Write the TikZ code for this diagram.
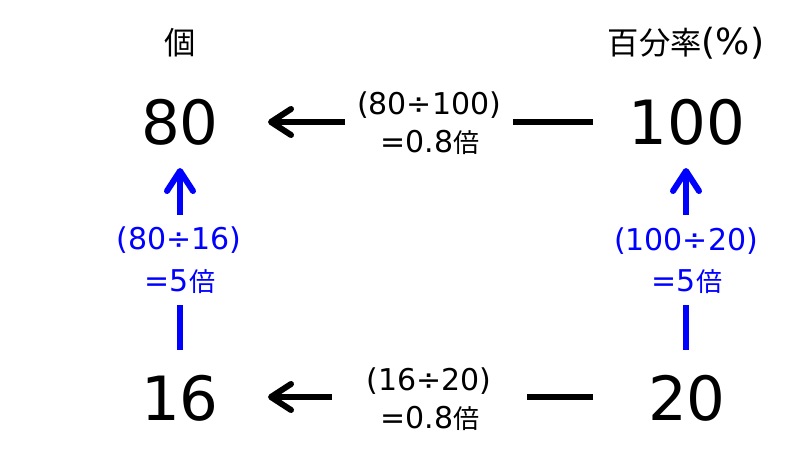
\documentclass[tikz,border=0pt]{standalone}
\usepackage{fontspec}
\setmainfont{DejaVu Sans}
\newfontfamily\cjk{Noto Sans CJK JP}[Scale=0.87]
\usetikzlibrary{arrows.meta}
\definecolor{myblue}{RGB}{0,0,255}
\tikzset{
  num/.style={font=\fontsize{61bp}{70bp}\selectfont, inner sep=0pt, anchor=base},
  head/.style={font=\fontsize{36bp}{40bp}\selectfont, inner sep=0pt, anchor=base},
  lbl/.style={font=\fontsize{30bp}{36bp}\selectfont, inner sep=0pt, anchor=base},
  bluelbl/.style={lbl, text=myblue},
  blkline/.style={line width=6bp, black},
  blkarrow/.style={line width=6bp, black, -{Straight Barb[round, length=20bp, width=26bp]}},
  blueline/.style={line width=6bp, myblue},
  bluearrow/.style={line width=6bp, myblue, -{Straight Barb[round, length=20bp, width=26bp]}},
}
\begin{document}
\begin{tikzpicture}[x=1bp,y=-1bp]
\useasboundingbox[fill=white] (0,0) rectangle (800,450);
% headers
\node[head] (hL) at (180,55) {{\cjk 個}};
\node[head] (hR) at (686,55) {{\cjk 百分率}(\%)};
% numbers
\node[num] (n80) at (180,145) {80};
\node[num] (n100) at (687,145) {100};
\node[num] (n16) at (180,420) {16};
\node[num] (n20) at (687,420) {20};
% top labels
\node[lbl] (t1) at (429,115) {(80÷100)};
\node[lbl] (t2) at (430,153) {=0.8{\cjk 倍}};
% bottom labels
\node[lbl] (b1) at (429,390) {(16÷20)};
\node[lbl] (b2) at (430,428) {=0.8{\cjk 倍}};
% left labels
\node[bluelbl] (l1) at (179,250) {(80÷16)};
\node[bluelbl] (l2) at (180,292) {=5{\cjk 倍}};
% right labels
\node[bluelbl] (r1) at (686,251) {(100÷20)};
\node[bluelbl] (r2) at (687,292) {=5{\cjk 倍}};
% connector coordinates
\coordinate (tA) at (593,122);
\coordinate (tB) at (513,122);
\coordinate (tC) at (345,122);
\coordinate (tD) at (268,122);
\coordinate (bA) at (593,397);
\coordinate (bB) at (527,397);
\coordinate (bC) at (332,397);
\coordinate (bD) at (268,397);
\coordinate (lA) at (180,350);
\coordinate (lB) at (180,305);
\coordinate (lC) at (180,215);
\coordinate (lD) at (180,168);
\coordinate (rA) at (686,350);
\coordinate (rB) at (686,305);
\coordinate (rC) at (686,215);
\coordinate (rD) at (686,168);
% connectors
\draw[blkline] (tA) -- (tB);
\draw[blkarrow] (tC) -- (tD);
\draw[blkline] (bA) -- (bB);
\draw[blkarrow] (bC) -- (bD);
\draw[blueline] (lA) -- (lB);
\draw[bluearrow] (lC) -- (lD);
\draw[blueline] (rA) -- (rB);
\draw[bluearrow] (rC) -- (rD);
\end{tikzpicture}
\end{document}
